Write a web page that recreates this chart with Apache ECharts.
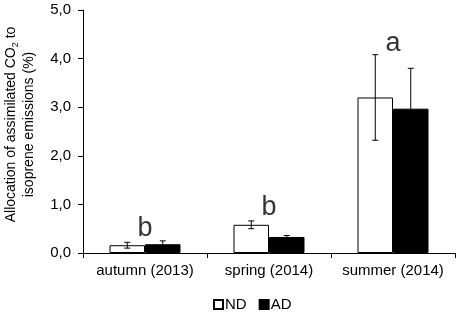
<!DOCTYPE html>
<html>
<head>
<meta charset="utf-8">
<script src="https://cdn.jsdelivr.net/npm/echarts@6/dist/echarts.min.js"></script>
<style>
  html, body { margin: 0; padding: 0; background: #fff; }
  #chart { width: 459px; height: 312px; }
</style>
</head>
<body>
<div id="chart"></div>
<script>
const categories = ['autumn (2013)', 'spring (2014)', 'summer (2014)'];
const ndMean = [0.16, 0.58, 3.20];
const ndErr = [0.06, 0.08, 0.88];
const adMean = [0.18, 0.33, 2.97];
const adErr = [0.07, 0.03, 0.83];
const letters = ['b', 'b', 'a'];
const letterY = [0.50, 0.93, 4.32];
const yTicks = [0, 1, 2, 3, 4, 5];

const BAR_W = 35.5;
const FONT = 'Liberation Sans, Arial, sans-serif';

const chart = echarts.init(document.getElementById('chart'));

// error bar data: [category index, mean, err, side (-1 = ND, 1 = AD)]
const errData = [];
categories.forEach((c, i) => {
  errData.push([i, ndMean[i], ndErr[i], -1]);
  errData.push([i, adMean[i], adErr[i], 1]);
});

const renderErr = (params, api) => {
  const i = api.value(0);
  const m = api.value(1);
  const e = api.value(2);
  const side = api.value(3);
  const top = api.coord([i, m + e]);
  const bot = api.coord([i, m - e]);
  const x = top[0] + side * BAR_W / 2;
  const cap = 3;
  const style = { stroke: '#000', lineWidth: 1 };
  return {
    type: 'group',
    children: [
      { type: 'line', shape: { x1: x, y1: top[1], x2: x, y2: bot[1] }, style },
      { type: 'line', shape: { x1: x - cap, y1: top[1], x2: x + cap, y2: top[1] }, style },
      { type: 'line', shape: { x1: x - cap, y1: bot[1], x2: x + cap, y2: bot[1] }, style },
    ],
  };
};

chart.setOption({
  animation: false,
  textStyle: { fontFamily: FONT },
  grid: { left: 83, right: 4, top: 10, bottom: 59, containLabel: false, outerBoundsMode: 'none' },
  legend: {
    data: ['ND', 'AD'],
    icon: 'rect',
    left: 208,
    top: 292,
    itemWidth: 9,
    itemHeight: 9,
    itemGap: 12,
    textStyle: { fontSize: 15, color: '#000', fontFamily: FONT, padding: [0, 0, 0, -3] },
  },
  xAxis: {
    type: 'category',
    data: categories,
    axisLine: { lineStyle: { color: '#000', width: 1 } },
    axisTick: { show: true, alignWithLabel: false, length: 5, lineStyle: { color: '#000' } },
    axisLabel: { interval: 0, fontSize: 15, color: '#000', fontFamily: FONT, margin: 10 },
  },
  yAxis: {
    type: 'value',
    min: 0,
    max: 5,
    interval: 1,
    name: 'Allocation of assimilated CO{sub|2} to\nisoprene emissions (%)',
    nameLocation: 'middle',
    nameRotate: 90,
    nameGap: 45,
    nameTextStyle: {
      fontSize: 14,
      color: '#000',
      fontFamily: FONT,
      lineHeight: 18,
      padding: [0, 0, 0, 14],
      rich: {
        sub: { fontSize: 9, color: '#000', fontFamily: FONT, verticalAlign: 'bottom', lineHeight: 18, padding: [5, 0, 0, 0] },
      },
    },
    axisLine: { show: true, lineStyle: { color: '#000', width: 1 } },
    axisTick: { show: true, inside: false, length: 5, lineStyle: { color: '#000' } },
    splitLine: { show: false },
    axisLabel: {
      fontSize: 15,
      color: '#000',
      fontFamily: FONT,
      margin: 12,
      formatter: (v) => yTicks.includes(v) ? v.toFixed(1).replace('.', ',') : '',
    },
  },
  series: [
    {
      name: 'ND',
      type: 'bar',
      data: ndMean,
      barWidth: BAR_W,
      barGap: '0%',
      itemStyle: { color: '#fff', borderColor: '#000', borderWidth: 1 },
    },
    {
      name: 'AD',
      type: 'bar',
      data: adMean,
      barWidth: BAR_W,
      itemStyle: { color: '#000', borderColor: '#000', borderWidth: 1 },
    },
    {
      type: 'custom',
      renderItem: renderErr,
      data: errData,
      z: 10,
    },
    {
      type: 'scatter',
      symbolSize: 0,
      data: letters.map((l, i) => [i, letterY[i]]),
      label: {
        show: true,
        position: 'inside',
        formatter: (p) => letters[p.dataIndex],
        fontSize: 27,
        color: '#000',
        fontFamily: FONT,
      },
      z: 11,
    },
  ],
});
</script>
</body>
</html>
